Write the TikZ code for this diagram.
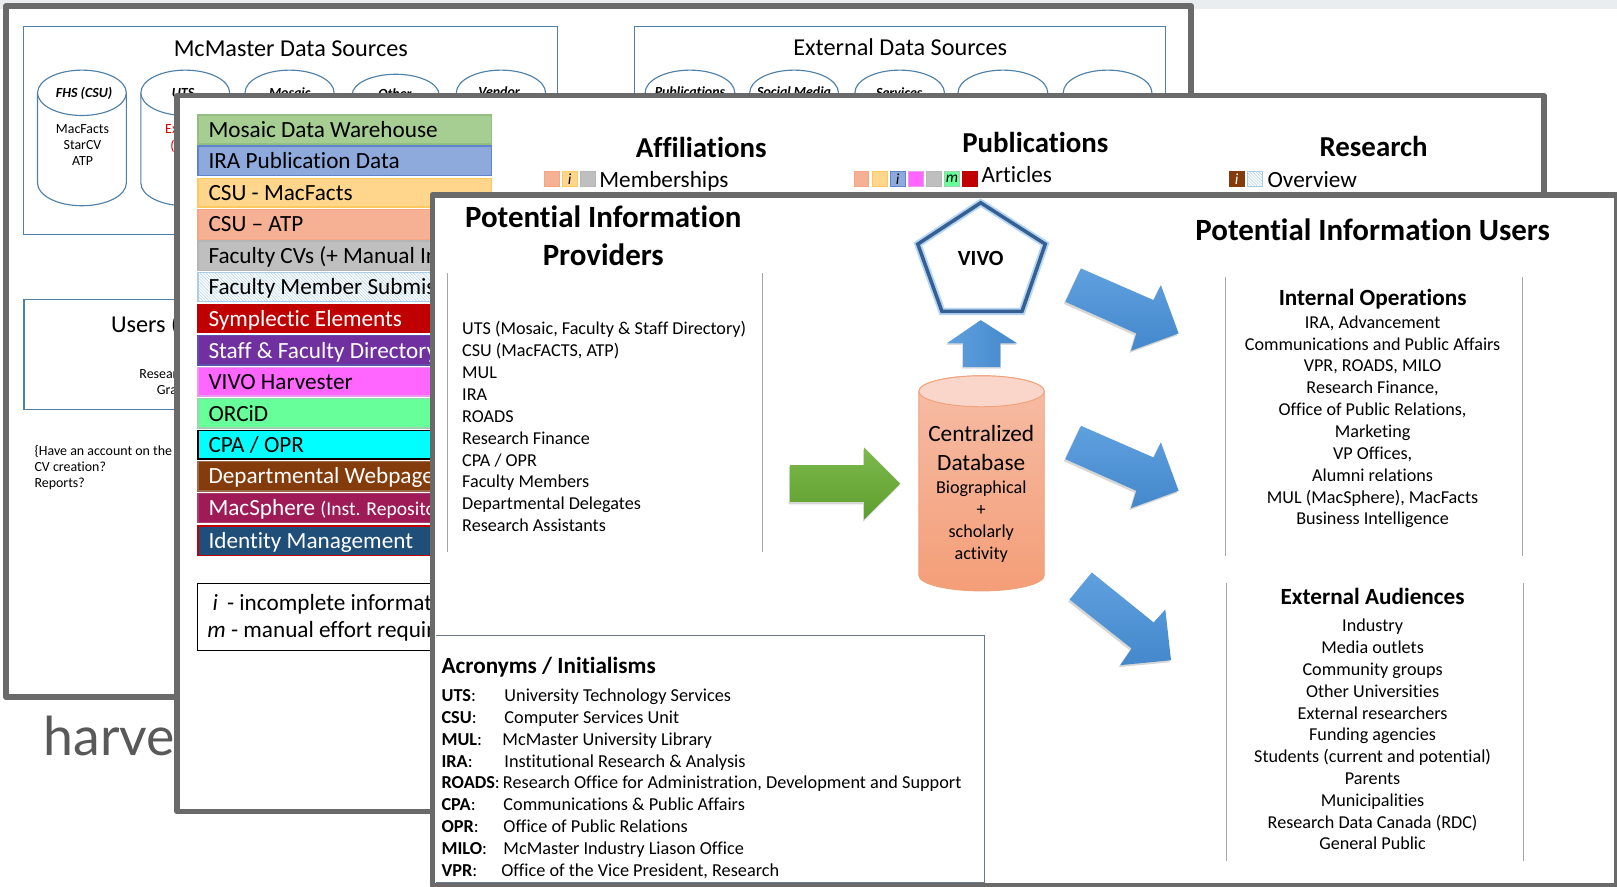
\documentclass[tikz,border=0pt]{standalone}
\usepackage{fontspec}
\setmainfont[RawFeature={-liga}]{Carlito}
\newfontfamily\latofont{Lato}
\usetikzlibrary{patterns}
\definecolor{framegray}{HTML}{6A6A6A}
\definecolor{boxblue}{HTML}{4F81A8}
\definecolor{stripgray}{HTML}{E9EDEF}
\definecolor{arrowblueA}{HTML}{5FA0DE}
\definecolor{arrowblueB}{HTML}{4488CC}
\definecolor{hatchblue}{HTML}{A9CDEB}
\definecolor{acrobox}{HTML}{6B7B8C}
\definecolor{HTMLa}{HTML}{A6CE93}\definecolor{HTMLaa}{HTML}{94BE82}
\definecolor{HTMLb}{HTML}{8EA9DB}\definecolor{HTMLbb}{HTML}{5F84CC}
\definecolor{HTMLc}{HTML}{FFD68C}\definecolor{HTMLcc}{HTML}{FFC85C}
\definecolor{HTMLd}{HTML}{F6B195}\definecolor{HTMLdd}{HTML}{F4A583}
\definecolor{HTMLe}{HTML}{BFBFBF}\definecolor{HTMLee}{HTML}{B5B5B5}
\definecolor{HTMLg}{HTML}{C00000}
\definecolor{HTMLh}{HTML}{7030A0}\definecolor{HTMLhh}{HTML}{5B4FB0}
\definecolor{HTMLi}{HTML}{FF66FF}\definecolor{HTMLii}{HTML}{E99AE9}
\definecolor{HTMLj}{HTML}{66FF99}\definecolor{HTMLjj}{HTML}{9FD0AF}
\definecolor{HTMLk}{HTML}{00FFFF}
\definecolor{HTMLl}{HTML}{843C0C}\definecolor{HTMLll}{HTML}{9A6A4A}
\definecolor{HTMLm}{HTML}{9E1B57}\definecolor{HTMLmm}{HTML}{A83D6F}
\definecolor{HTMLn}{HTML}{1F4E79}
\definecolor{HTMLo}{HTML}{7DB94D}\definecolor{HTMLp}{HTML}{5F9E2E}
\definecolor{HTMLq}{HTML}{B5D5F5}\definecolor{HTMLr}{HTML}{366092}
\definecolor{HTMLs}{HTML}{F6BDA6}\definecolor{HTMLt}{HTML}{F49E78}
\definecolor{HTMLu}{HTML}{EFA27A}\definecolor{HTMLv}{HTML}{F9D6C9}
\newcommand{\fs}[1]{\fontsize{#1}{#1}\selectfont}
% \lab[opts]{name}{x}{y}{size}{text}
\newcommand{\lab}[6][]{%
  \pgfmathsetmacro\labh{0.66*#5}\pgfmathsetmacro\labd{0.18*#5}%
  \node[inner sep=0pt,yshift=-2pt,text height=\labh pt,text depth=\labd pt,font=\fs{#5},#1] (#2) at (#3,#4) {#6};}
\tikzset{
  win/.style={draw=framegray,line width=5.6pt,fill=white,line join=round},
  srcbox/.style={draw=boxblue,line width=1.1pt,fill=white},
  drum/.style={draw=boxblue,line width=1.1pt},
  divider/.style={draw=black!35,line width=0.9pt},
  lft/.style={anchor=west},
  ital/.style={font=\fs{13.5}\bfseries\itshape},
  bluearrow/.style={top color=arrowblueA,bottom color=arrowblueB,draw=none},
  shadowarrow/.style={fill=black!45,opacity=0.35,draw=none}
}
% \cyl{x1}{x2}{top}{ry}{bottom}
\newcommand{\cyl}[5]{%
  \pgfmathsetmacro\cr{(#2-#1)/2}\pgfmathsetmacro\cc{(#1+#2)/2}%
  \pgfmathsetmacro\ct{#3+#4}\pgfmathsetmacro\cb{#5-#4}%
  \draw[drum,fill=white] (#1,\ct) -- (#1,\cb) arc[start angle=180,end angle=360,x radius=\cr pt,y radius=#4 pt] -- (#2,\ct);
  \draw[drum,fill=white] (\cc,\ct) ellipse[x radius=\cr pt,y radius=#4 pt];}
% \sbar{name}{y1}{y2}{fill}{draw}{textcolor}{text}
\newcommand{\sbar}[7]{%
  \draw[fill=#4,draw=#5,line width=1.2pt] (192,#2) rectangle (476.6,#3);
  \pgfmathsetmacro\by{(#2+#3)/2}%
  \lab[lft,text=#6]{#1}{202}{\by}{22.5}{#7}}
% \swatch{name}{x}{fill}{draw}{text}
\newcommand{\swatch}[5]{%
  \pgfmathsetmacro\sx{#2+14.5}%
  \draw[fill=#3,draw=#4,line width=0.7pt] (#2,166.5) rectangle (\sx,181);
  \pgfmathsetmacro\scx{#2+7.2}%
  \node[inner sep=0pt,font=\fs{15}\itshape] (#1) at (\scx,173.7) {#5};}
% \acro{name}{y}{bold}{x}{text}
\newcommand{\acro}[5]{%
  \lab[lft,font=\fs{17.7}]{#1a}{428}{#2}{17.7}{\textbf{#3}:}
  \lab[lft]{#1b}{#4}{#2}{17.7}{#5}}
\newcommand{\blockarrow}[7]{%
  \fill[shadowarrow,shift={(-1.5pt,-2pt)}] #1 -- #2 -- #3 -- #4 -- #5 -- #6 -- #7 -- cycle;
  \shade[bluearrow] #1 -- #2 -- #3 -- #4 -- #5 -- #6 -- #7 -- cycle;}
\begin{document}
\begin{tikzpicture}[x=1pt,y=-1pt]
\useasboundingbox (0,0) rectangle (1568,860);
\fill[white] (0,0) rectangle (1568,860);
\fill[stripgray] (0,0) rectangle (1568,8.7);
% ---- caption behind the windows
\node[inner sep=0pt,anchor=base west,font=\fs{52}\latofont,text=black!65] (harv) at (42,732.5) {harve};
% ---- window 1
\draw[win] (6,6) rectangle (1155,676);
\draw[srcbox] (23,26) rectangle (541,227);
\lab{mcm}{282}{47}{23.5}{McMaster Data Sources}
\cyl{36.4}{122.5}{68}{22}{199.5}
\cyl{136.6}{222.7}{68}{22}{199.5}
\cyl{237.6}{324}{68}{22}{199.5}
\cyl{341.5}{425.8}{72}{20}{199.5}
\cyl{442.5}{529}{68}{22}{199.5}
\lab[ital]{fhs}{81.5}{89}{13.5}{FHS (CSU)}
\lab[ital]{uts}{177.5}{89}{13.5}{UTS}
\lab[ital]{mos}{281}{89}{13.5}{Mosaic}
\lab[ital]{oth}{383}{90}{13.5}{Other}
\lab[ital]{ven}{484}{88}{13.5}{Vendor}
\lab{macf}{80}{124.5}{13.5}{MacFacts}
\lab{star}{80}{140}{13.5}{StarCV}
\lab{atp}{80}{155.5}{13.5}{ATP}
\lab[lft,text=red!85!black]{ex}{160}{124.5}{13.5}{Ex}
\lab[lft,text=red!85!black]{expar}{165}{141}{13.5}{(}
\draw[srcbox] (615.5,25.5) rectangle (1130.5,227);
\lab{ext}{873}{46}{23.5}{External Data Sources}
\cyl{625.6}{712.5}{68}{22}{199.5}
\cyl{727}{813}{68}{22}{199.5}
\cyl{829}{915.8}{68}{22}{199.5}
\cyl{929}{1016}{68}{22}{199.5}
\cyl{1031}{1117}{68}{22}{199.5}
\lab[ital]{pubs}{669}{88}{13.5}{Publications}
\lab[ital]{socm}{770}{88}{13.5}{Social Media}
\lab[ital]{serv}{872}{89}{13.5}{Services}
\draw[srcbox] (23.3,290) rectangle (541,397);
\lab[lft]{users}{107.5}{314.5}{23.5}{Users (}
\lab[lft]{resr}{135}{361.5}{13.5}{Resear}
\lab[lft]{grad}{152}{377}{13.5}{Gra}
\lab[lft]{note1}{33.3}{436.5}{13.5}{\{Have an account on the s}
\lab[lft]{note2}{33.3}{452}{13.5}{CV creation?}
\lab[lft]{note3}{33.3}{467.5}{13.5}{Reports?}
% ---- window 2
\draw[win] (171.8,92.7) rectangle (1497,787);
\sbar{bara}{111.5}{139.7}{HTMLa}{HTMLaa}{black}{Mosaic Data Warehouse}
\sbar{barb}{141.6}{170.4}{HTMLb}{HTMLbb}{black}{IRA Publication Data}
\sbar{barc}{173}{200.8}{HTMLc}{HTMLcc}{black}{CSU - MacFacts}
\sbar{bard}{203}{232}{HTMLd}{HTMLdd}{black}{CSU -- ATP}
\sbar{bare}{233.8}{262}{HTMLe}{HTMLee}{black}{Faculty CVs (+ Manual Input)}
\draw[pattern=north west lines,pattern color=hatchblue,draw=hatchblue,line width=1.2pt] (192,264.5) rectangle (476.6,292);
\lab[lft]{barf}{202}{278.5}{22.5}{Faculty Member Submission}
\sbar{barg}{295.2}{322.7}{HTMLg}{HTMLg}{white}{Symplectic Elements}
\sbar{barh}{325.6}{354}{HTMLh}{HTMLhh}{white}{Staff \& Faculty Directory}
\sbar{bari}{356.3}{384}{HTMLi}{HTMLii}{black}{VIVO Harvester}
\sbar{barj}{386.7}{415}{HTMLj}{HTMLjj}{black}{ORCiD}
\sbar{bark}{417.7}{445}{HTMLk}{black}{black}{CPA / OPR}
\sbar{barl}{447.8}{476}{HTMLl}{HTMLll}{white}{Departmental Webpages}
\draw[fill=HTMLm,draw=HTMLmm,line width=1.2pt] (192,478.5) rectangle (476.6,506.6);
\node[inner sep=0pt,anchor=base west,text=white,font=\fs{22.5}] (barm) at (202,500) {MacSphere {\fs{19}(Inst. Repository)}};
\sbar{barn}{510}{539}{HTMLn}{HTMLg}{white}{Identity Management}
\draw[line width=1.1pt,fill=white] (191.4,566) rectangle (476.6,630.5);
\node[inner sep=0pt,anchor=base west,font=\fs{22.5}] (lgi) at (206,591.7) {\textit{i}\,\ - incomplete information};
\node[inner sep=0pt,anchor=base west,font=\fs{22.5}] (lgm) at (201,618.5) {\textit{m} - manual effort required};
\lab[font=\fs{28}\bfseries]{haff}{680}{144}{28}{Affiliations}
\lab[font=\fs{28}\bfseries]{hpub}{1004}{139}{28}{Publications}
\lab[font=\fs{28}\bfseries]{hres}{1332}{143}{28}{Research}
\swatch{sa}{528}{HTMLd}{HTMLdd}{}
\swatch{sb}{545.2}{HTMLc}{HTMLcc}{i}
\swatch{sc}{563}{HTMLe}{HTMLee}{}
\lab[lft]{memb}{581}{174}{22.5}{Memberships}
\swatch{pa}{828}{HTMLd}{HTMLdd}{}
\swatch{pb}{845.6}{HTMLc}{HTMLcc}{}
\swatch{pc}{863.2}{HTMLb}{HTMLbb}{i}
\swatch{pd}{880.8}{HTMLi}{HTMLii}{}
\swatch{pe}{898.4}{HTMLe}{HTMLee}{}
\swatch{pf}{916}{HTMLj}{HTMLjj}{m}
\swatch{pg}{933.6}{HTMLg}{HTMLg}{}
\lab[lft]{arts}{951.7}{169.7}{22.5}{Articles}
\swatch{ra}{1192}{HTMLl}{HTMLl}{\textcolor{white}{i}}
\draw[pattern=north west lines,pattern color=hatchblue,draw=hatchblue,line width=0.9pt] (1209.5,166.5) rectangle (1224,181);
\lab[lft]{over}{1229}{174}{22.5}{Overview}
% ---- window 3
\draw[win] (419.4,189) rectangle (1568.3,858.8);
\lab[font=\fs{30}\bfseries]{pa1}{585}{211}{30}{Potential Information}
\lab[font=\fs{30}\bfseries]{pa2}{585}{248}{30}{Providers}
\lab[font=\fs{30}\bfseries]{pu1}{1331}{224}{30}{Potential Information Users}
\draw[divider] (434.3,265) -- (434.3,535);
\draw[divider] (739,265) -- (739,535);
\draw[divider] (1188.5,269) -- (1188.5,539);
\draw[divider] (1476.5,269) -- (1476.5,539);
\draw[divider] (1189.5,565) -- (1189.5,835);
\draw[divider] (1477.5,565) -- (1477.5,835);
\foreach \t [count=\i] in {{UTS (Mosaic, Faculty \& Staff Directory)},{CSU (MacFACTS, ATP)},MUL,IRA,ROADS,Research Finance,CPA / OPR,Faculty Members,Departmental Delegates,Research Assistants}
  {\pgfmathsetmacro\yy{318.5+(\i-1)*21.2}\lab[lft]{prov\i}{448}{\yy}{17.6}{\t}}
\lab[font=\fs{22.5}\bfseries]{into}{1331}{288.5}{22.5}{Internal Operations}
\foreach \t [count=\i] in {{IRA, Advancement},Communications and Public Affairs,{VPR, ROADS, MILO},{Research Finance,},{Office of Public Relations,},Marketing,{VP Offices,},Alumni relations,{MUL (MacSphere), MacFacts},Business Intelligence}
  {\pgfmathsetmacro\yy{312+(\i-1)*21.2}\lab{intl\i}{1331}{\yy}{17.6}{\t}}
\lab[font=\fs{22.5}\bfseries]{exta}{1331}{578.5}{22.5}{External Audiences}
\foreach \t [count=\i] in {Industry,Media outlets,Community groups,Other Universities,External researchers,Funding agencies,Students (current and potential),Parents,Municipalities,Research Data Canada (RDC),General Public}
  {\pgfmathsetmacro\yy{606.5+(\i-1)*21.15}\lab{extl\i}{1331}{\yy}{17.6}{\t}}
% green arrow
\fill[black!45,opacity=.35] (765,452.5) -- (837,452.5) -- (837,436) -- (872,471) -- (837,506) -- (837,489) -- (765,489) -- cycle;
\shade[top color=HTMLo,bottom color=HTMLp] (766,451) -- (838,451) -- (838,434) -- (873,469) -- (838,503.6) -- (838,486.6) -- (766,486.6) -- cycle;
% up arrow
\fill[black!45,opacity=.3] (933,357.5) -- (933,334.5) -- (917.5,334.5) -- (951,312) -- (986,334.5) -- (970.5,334.5) -- (970.5,357.5) -- cycle;
\shade[left color=arrowblueA,right color=arrowblueB] (934,356) -- (934,333) -- (918,333) -- (951,310.4) -- (986.5,333) -- (970,333) -- (970,356) -- cycle;
% block arrows
\blockarrow{(1048.2,260.3)}{(1118.6,291)}{(1125.7,276.4)}{(1142.9,323.3)}{(1096.7,340.1)}{(1101.8,323.3)}{(1033,292.6)}
\blockarrow{(1048.2,412.9)}{(1118.6,443.6)}{(1125.7,429)}{(1142.9,475.9)}{(1096.7,492.7)}{(1101.8,475.9)}{(1033,445.2)}
\blockarrow{(1058.7,555.1)}{(1118.7,603.6)}{(1130,591)}{(1135.5,640.2)}{(1086.2,645)}{(1097.3,628.8)}{(1037.2,581.3)}
% VIVO pentagon
\draw[draw=HTMLq,line width=7pt,line join=miter,fill=white] (951,196.6) -- (1013.6,236.7) -- (991,302) -- (913.4,302) -- (890,236.7) -- cycle;
\draw[draw=HTMLr,line width=3.4pt,line join=miter] (951,196.6) -- (1013.6,236.7) -- (991,302) -- (913.4,302) -- (890,236.7) -- cycle;
\lab[font=\fs{21}\bfseries]{vivo}{951}{250.5}{21}{VIVO}
% database
\shade[top color=HTMLs,bottom color=HTMLt,draw=HTMLu,line width=0.9pt] (891,379.4) -- (891,558) arc[start angle=180,end angle=360,x radius=60.8pt,y radius=15pt] -- (1012.6,379.4) arc[start angle=0,end angle=180,x radius=60.8pt,y radius=15pt] -- cycle;
\draw[draw=HTMLu,fill=HTMLv,line width=0.9pt] (951.8,379.4) ellipse[x radius=60.8pt,y radius=15pt];
\lab{dba}{951.5}{421}{22.6}{Centralized}
\lab{dbb}{951.5}{449}{22.6}{Database}
\lab{dbc}{951.5}{472.5}{17.6}{Biographical}
\lab{dbd}{951.5}{494}{17.6}{+}
\lab{dbe}{951.5}{515}{17.6}{scholarly}
\lab{dbf}{951.5}{536}{17.6}{activity}
% acronyms box
\draw[draw=acrobox,line width=1pt,fill=white] (423,616.5) -- (954.6,616.5) -- (954.6,856) -- (423,856);
\lab[lft,font=\fs{22.5}\bfseries]{acrt}{428}{646}{22.5}{Acronyms / Initialisms}
\acro{au}{674}{UTS}{489}{University Technology Services}
\acro{ac}{695.5}{CSU}{489}{Computer Services Unit}
\acro{am}{716.5}{MUL}{487}{McMaster University Library}
\acro{ai}{737.5}{IRA}{489}{Institutional Research \& Analysis}
\acro{ar}{758.5}{ROADS}{487.5}{Research Office for Administration, Development and Support}
\acro{ap}{780}{CPA}{488}{Communications \& Public Affairs}
\acro{ao}{801}{OPR}{488}{Office of Public Relations}
\acro{ami}{822}{MILO}{488}{McMaster Industry Liason Office}
\acro{av}{843.5}{VPR}{486}{Office of the Vice President, Research}
\end{tikzpicture}
\end{document}
